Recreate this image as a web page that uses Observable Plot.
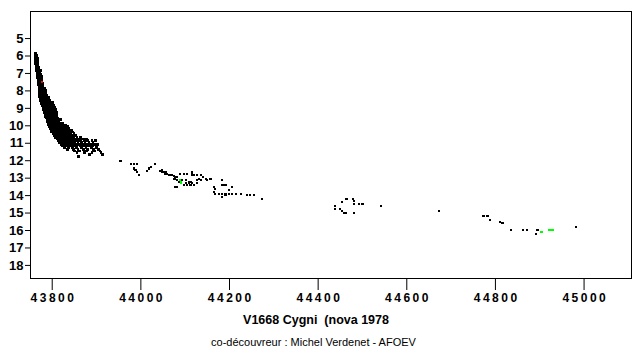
<!DOCTYPE html>
<html><head><meta charset="utf-8">
<script src="https://cdn.jsdelivr.net/npm/d3@7"></script>
<script src="https://cdn.jsdelivr.net/npm/@observablehq/plot@0.6"></script>
<style>
body{margin:0;background:#fff;width:644px;height:355px;overflow:hidden;font-family:"Liberation Sans",Arial,sans-serif;color:#000;position:relative}
#title{position:absolute;left:0;width:632px;text-align:center;top:313px;font-weight:bold;font-size:12.5px;white-space:pre}
#sub{position:absolute;left:0;width:627px;text-align:center;top:336px;font-size:11px;white-space:pre}
</style></head>
<body><div id="chart"></div><div id="title">V1668 Cygni  (nova 1978</div><div id="sub">co-découvreur : Michel Verdenet - AFOEV</div>
<script>
// Tick values
const xTicks = [43800, 44000, 44200, 44400, 44600, 44800, 45000];
const yTicks = [5,6,7,8,9,10,11,12,13,14,15,16,17,18];

// Early decline: rows of [magnitude, [julian dates - 2400000]]
const earlyRows = [
  [5.85,[43762]],
  [5.95,[43761,43765]],
  [6.05,[43761,43765]],
  [6.15,[43762,43766]],
  [6.25,[43762,43766]],
  [6.35,[43763,43767]],
  [6.45,[43763,43767]],
  [6.55,[43764,43768]],
  [6.65,[43764,43769]],
  [6.75,[43765,43770]],
  [6.85,[43765,43770,43773]],
  [6.95,[43766,43771]],
  [7.05,[43766,43770,43774]],
  [7.15,[43767,43771,43775]],
  [7.25,[43767,43772,43776]],
  [7.35,[43768,43772,43776]],
  [7.45,[43768,43773]],
  [7.55,[43769,43773,43778]],
  [7.65,[43769,43774,43779]],
  [7.75,[43770,43774,43779]],
  [7.85,[43770,43775,43780,43784]],
  [7.95,[43770,43775,43780,43785]],
  [8.05,[43771,43776,43781,43786]],
  [8.15,[43771,43776,43781,43786]],
  [8.25,[43772,43777,43782,43787]],
  [8.35,[43772,43777,43782,43788,43792]],
  [8.45,[43773,43778,43783,43788,43793]],
  [8.55,[43774,43779,43784,43789,43794]],
  [8.65,[43775,43780,43785,43790,43796,43800]],
  [8.75,[43776,43781,43786,43791,43797]],
  [8.85,[43777,43782,43787,43792,43798,43803]],
  [8.95,[43779,43784,43789,43794,43800,43806]],
  [9.05,[43781,43786,43791,43796,43801,43807]],
  [9.15,[43782,43787,43792,43797,43802]],
  [9.25,[43783,43788,43793,43798,43803,43809]],
  [9.35,[43784,43789,43794,43799,43804,43810]],
  [9.45,[43785,43790,43795,43800,43805,43811]],
  [9.55,[43786,43791,43796,43801,43806,43812]],
  [9.65,[43788,43793,43798,43803,43808,43814,43820]],
  [9.75,[43789,43794,43799,43804,43809,43815]],
  [9.85,[43791,43796,43801,43806,43811,43817,43823]],
  [9.95,[43792,43797,43802,43807,43812,43818,43825,43830]],
  [10.05,[43794,43799,43804,43809,43814,43819,43824,43829,43834]],
  [10.15,[43796,43801,43806,43811,43816,43821,43826,43831,43837]],
  [10.25,[43798,43803,43808,43813,43818,43823,43828,43833,43838,43843]],
  [10.35,[43799,43804,43809,43814,43819,43824,43829,43834,43839,43846]],
  [10.45,[43802,43807,43812,43817,43822,43827,43832,43837,43842,43849]],
  [10.55,[43805,43810,43815,43820,43825,43830,43835,43840,43846,43852]],
  [10.65,[43808,43813,43818,43823,43828,43833,43838,43843,43849,43856,43863]],
  [10.75,[43811,43816,43821,43826,43831,43836,43841,43847,43853,43860,43870,43878]],
  [10.85,[43814,43819,43824,43829,43834,43840,43845,43851,43857,43864,43872,43880,43890,43898]],
  [10.95,[43817,43822,43827,43833,43838,43844,43850,43858,43866,43874,43883,43892]],
  [11.05,[43820,43826,43832,43838,43845,43852,43860,43868,43877,43886,43895,43902]],
  [11.15,[43823,43830,43840,43848,43856,43864,43873,43882,43891,43899]],
  [11.25,[43828,43836,43846,43855,43866,43876,43888,43900]],
  [11.35,[43834,43848,43858,43870,43880,43893,43905]],
  [11.45,[43850,43862,43878,43896,43908]],
  [11.55,[43856,43872,43890,43910]],
  [11.65,[43884,43913]],
  [11.75,[43860]]
];

// Later observations: [jd, mag]
const midObs = [
  [43954,12.04],
  [43977,12.21],[43984,12.21],[43992,12.21],
  [43984,12.45],[43988,12.51],[43992,12.65],[43995,12.84],
  [44014,12.59],[44018,12.45],[44022,12.36],[44031,12.21],
  [44043,12.59],[44048,12.55],[44052,12.65],[44056,12.65],[44059,12.74],
  [44047,12.65],[44055,12.78],[44063,12.84],[44067,12.84],[44071,12.84],[44074,12.9],[44078,12.94],[44082,12.94],
  [44074,13.03],[44078,13.03],[44082,13.13],[44086,13.22],
  [44089,12.74],[44097,12.74],[44105,12.74],
  [44116,12.65],[44116,12.74],[44116,12.84],
  [44119,12.84],[44127,12.84],[44135,12.84],[44141,12.94],
  [44093,13.13],[44101,13.13],[44108,13.22],[44112,13.22],[44101,13.3],[44108,13.3],[44116,13.3],
  [44097,13.41],[44105,13.41],[44112,13.41],[44119,13.41],
  [44078,13.51],[44082,13.51],
  [44127,13.13],[44127,13.3],[44131,13.03],[44135,13.13],
  [44146,13.03],[44150,13.13],[44157,13.03],
  [44165,13.51],[44168,13.6],[44165,13.8],
  [44184,13.13],[44184,13.41],[44187,13.41],[44193,13.41],
  [44168,13.89],[44176,13.89],[44184,13.89],[44191,13.89],[44198,13.89],[44206,13.89],[44214,13.89],[44225,13.89],
  [44198,13.7],[44206,13.51],
  [44184,14.08],[44191,13.99],
  [44240,13.99],[44247,13.99],[44255,13.99],
  [44274,14.17]
];
const lateObs = [
  [44464,14.17],[44479,14.17],[44481,14.31],[44454,14.37],[44481,14.5],[44492,14.5],[44500,14.5],
  [44439,14.6],[44439,14.75],[44450,14.75],[44454,14.89],[44458,15.0],[44462,15.0],[44481,15.0],
  [44541,14.6],[44673,14.89],
  [44773,15.17],[44782,15.17],[44788,15.42],[44810,15.52],[44816,15.56],
  [44836,15.96],[44863,15.96],[44872,15.96],[44895,15.96],[44891,16.22],[44981,15.8]
];
const redObs = [[43777,7.49]];
const greenObs = [[44089,13.13],[44091,13.25],[44904,16.09],[44921,15.96],[44925,15.96],[44929,15.96]];

const toRows = arr => arr.map(([jd, mag]) => ({jd, mag}));
const early = earlyRows.flatMap(([mag, jds]) => jds.map(jd => ({jd, mag})));
const later = toRows(midObs).concat(toRows(lateObs));

const dotOpts = (c, r) => ({x: "jd", y: "mag", symbol: "square", r, fill: c, stroke: null, shapeRendering: "crispEdges"});

const chart = Plot.plot({
  width: 644, height: 306,
  marginLeft: 30, marginRight: 13, marginTop: 11, marginBottom: 28,
  style: {fontFamily: "'Liberation Sans', Arial, sans-serif", fontSize: "12px", fontWeight: "bold", background: "#fff", color: "#000", overflow: "visible"},
  x: {domain: [43751, 45107]},
  y: {domain: [3.45, 18.75], reverse: true},
  marks: [
    Plot.axisX({ticks: xTicks, tickSize: 12, tickPadding: 3, label: null, tickFormat: d => String(d), fontSize: 12, fontWeight: "bold"}),
    Plot.axisY({ticks: yTicks, tickSize: 5, tickPadding: 2, label: null, fontSize: 13, fontWeight: "bold"}),
    Plot.dot(early, dotOpts("#000", 1.55)),
    Plot.dot(later, dotOpts("#000", 1.2)),
    Plot.dot(toRows(redObs), dotOpts("#ff0000", 1.2)),
    Plot.dot(toRows(greenObs), dotOpts("#00ff00", 1.2)),
    Plot.frame({stroke: "#000"})
  ]
});
document.getElementById("chart").appendChild(chart);
d3.select(chart).selectAll('g[aria-label="x-axis tick label"] text').attr("letter-spacing", "2.5px").attr("dx", "1.25px");
</script>
</body></html>
